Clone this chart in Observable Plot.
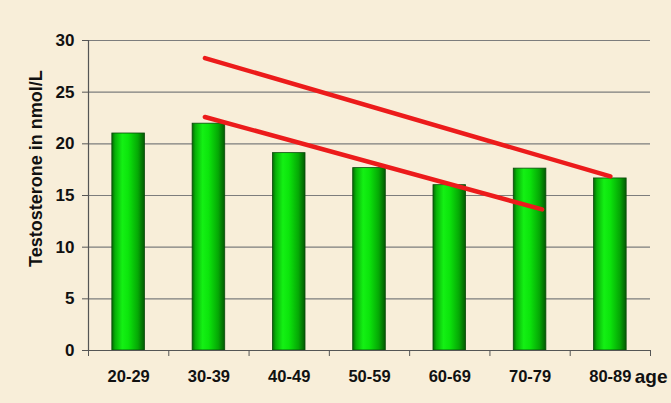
<!DOCTYPE html>
<html>
<head>
<meta charset="utf-8">
<script src="https://cdn.jsdelivr.net/npm/d3@7"></script>
<script src="https://cdn.jsdelivr.net/npm/@observablehq/plot@0.6"></script>
<style>
  html, body { margin: 0; padding: 0; background: #f8eed9; }
  #chart { width: 671px; height: 403px; }
</style>
</head>
<body>
<div id="chart"></div>
<script>
const ages = ["20-29", "30-39", "40-49", "50-59", "60-69", "70-79", "80-89"];
const testosterone = [21.0, 21.95, 19.1, 17.65, 16.0, 17.6, 16.65];
const yTicks = [0, 5, 10, 15, 20, 25, 30];
const upperTrendX = [0.95, 6.0];
const upperTrendY = [28.3, 16.85];
const lowerTrendX = [0.95, 5.15];
const lowerTrendY = [22.6, 13.65];
const yTitle = "Testosterone in nmol/L";
const xTitle = "age";

const bars = ages.map((a, i) => ({i, age: a, value: testosterone[i]}));
const upper = upperTrendX.map((x, k) => ({x, y: upperTrendY[k]}));
const lower = lowerTrendX.map((x, k) => ({x, y: lowerTrendY[k]}));
const centers = ages.map((a, i) => i);
const bounds = d3.range(ages.length + 1).map(i => i - 0.5);

const font = "'Liberation Sans', Arial, sans-serif";

const svg = Plot.plot({
  width: 671,
  height: 403,
  marginLeft: 88,
  marginRight: 21,
  marginTop: 40,
  marginBottom: 53,
  style: {background: "#f8eed9", fontFamily: font, color: "#111"},
  x: {type: "linear", domain: [-0.5, ages.length - 0.5]},
  y: {domain: [0, 30]},
  marks: [
    Plot.gridY(yTicks.filter(t => t > 0), {stroke: "#7d7d7d", strokeOpacity: 1, strokeWidth: 1.1}),
    Plot.rectY(bars, {
      x1: d => d.i - 0.203, x2: d => d.i + 0.203, y: "value",
      fill: "url(#barGrad)", stroke: "#0b4a0b", strokeWidth: 0.8
    }),
    Plot.line(upper, {x: "x", y: "y", stroke: "#ec1b1b", strokeWidth: 4.5}),
    Plot.line(lower, {x: "x", y: "y", stroke: "#ec1b1b", strokeWidth: 4.5}),
    Plot.ruleX([-0.5], {stroke: "#555", strokeWidth: 1.2}),
    Plot.ruleY([0], {stroke: "#555", strokeWidth: 1.2}),
    Plot.axisY({ticks: yTicks, tickSize: 6, tickPadding: 8, label: null,
      fontSize: 17, fontWeight: "bold", stroke: "#555"}),
    Plot.axisX({ticks: bounds, tickSize: 6, tickFormat: () => "", label: null, stroke: "#555"}),
    Plot.axisX({ticks: centers, tickSize: 0, tickPadding: 20, label: null,
      tickFormat: i => ages[i], fontSize: 16.5, fontWeight: "bold"}),
    Plot.text([yTitle], {frameAnchor: "left", y: [17.6], text: d => d, rotate: -90,
      textAnchor: "middle", dx: -52, fontSize: 18, fontWeight: "bold", fill: "#111"}),
    Plot.text([xTitle], {frameAnchor: "bottom-right", text: d => d, textAnchor: "end",
      lineAnchor: "middle", dx: 17, dy: 26, fontSize: 19, fill: "#111", fontWeight: "bold"})
  ]
});

const defs = d3.select(svg).insert("defs", ":first-child");
const g = defs.append("linearGradient").attr("id", "barGrad")
  .attr("x1", "0").attr("x2", "1").attr("y1", "0").attr("y2", "0");
[[0, "#046604"], [0.1, "#08b008"], [0.32, "#14f014"], [0.5, "#0ce60c"], [0.8, "#05a805"], [1, "#035a03"]]
  .forEach(([o, c]) => g.append("stop").attr("offset", o).attr("stop-color", c));

document.getElementById("chart").appendChild(svg);
</script>
</body>
</html>
